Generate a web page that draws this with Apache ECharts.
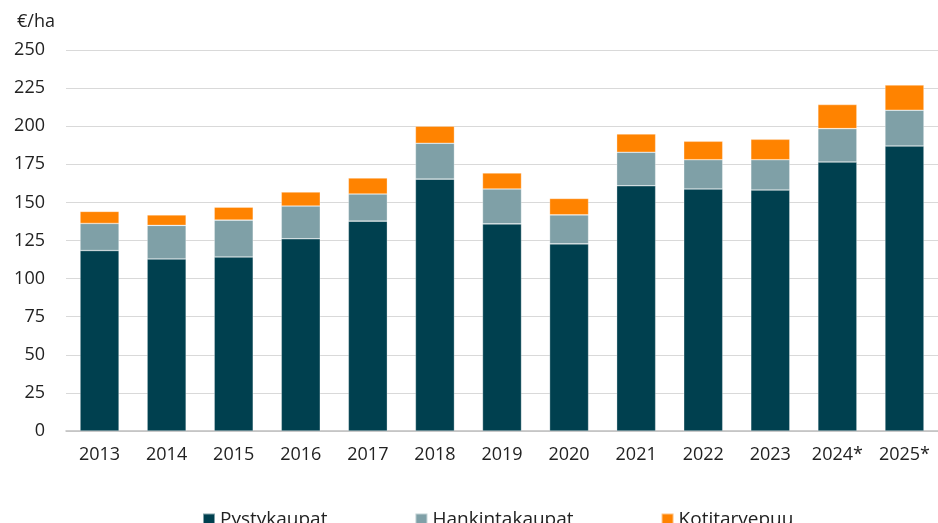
<!DOCTYPE html>
<html><head><meta charset="utf-8">
<script src="https://cdn.jsdelivr.net/npm/echarts@6/dist/echarts.min.js"></script>
<style>html,body{margin:0;padding:0;background:#fff}#c{width:938px;height:523px}</style>
</head><body><div id="c"></div>
<script>
const categories = ['2013','2014','2015','2016','2017','2018','2019','2020','2021','2022','2023','2024*','2025*'];
const pystykaupat = [118.4,112.9,114.2,126.1,137.7,165.3,135.9,122.8,160.9,158.8,158.1,176.5,187.0];
const hankintakaupat = [17.8,22.0,24.2,21.5,17.8,23.5,22.9,19.0,22.0,19.2,19.9,21.9,23.5];
const kotitarvepuu = [7.9,6.9,8.5,9.2,10.5,11.2,10.5,10.8,12.0,12.1,13.4,15.8,16.5];
const yTicks = [0,25,50,75,100,125,150,175,200,225,250];

const font = '"Open Sans", "Noto Sans", sans-serif';
const chart = echarts.init(document.getElementById('c'), null, {renderer:'canvas'});
const mk = (name, data, color) => ({
  name, type:'bar', stack:'t', data, barWidth:39,
  itemStyle:{color, borderColor:'rgba(255,255,255,0.5)', borderWidth:0.6},
  emphasis:{disabled:true}
});
chart.setOption({
  animation:false,
  textStyle:{fontFamily:font},
  title:{text:'€/ha', left:12, top:8, textStyle:{fontFamily:font, fontSize:18, fontWeight:'normal', color:'#222'}},
  grid:{left:66, right:-7, top:50, bottom:92, containLabel:false},
  legend:{
    left:197, top:505, itemWidth:12, itemHeight:12, itemGap:87, icon:'rect',
    textStyle:{fontFamily:font, fontSize:19, color:'#222'},
    data:['Pystykaupat','Hankintakaupat','Kotitarvepuu']
  },
  xAxis:{
    type:'category', data:categories,
    axisLine:{lineStyle:{color:'#bfbfbf', width:1.5}},
    axisTick:{show:false},
    axisLabel:{fontFamily:font, fontSize:18, color:'#222', margin:15}
  },
  yAxis:{
    type:'value', min:yTicks[0], max:yTicks[yTicks.length-1], interval:25,
    axisLine:{show:false}, axisTick:{show:false},
    axisLabel:{fontFamily:font, fontSize:18, color:'#222', margin:21},
    splitLine:{lineStyle:{color:'#d9d9d9', width:1.2}}
  },
  series:[
    mk('Pystykaupat', pystykaupat, '#00404F'),
    mk('Hankintakaupat', hankintakaupat, '#7FA0A7'),
    mk('Kotitarvepuu', kotitarvepuu, '#FF8300')
  ]
});
</script></body></html>
